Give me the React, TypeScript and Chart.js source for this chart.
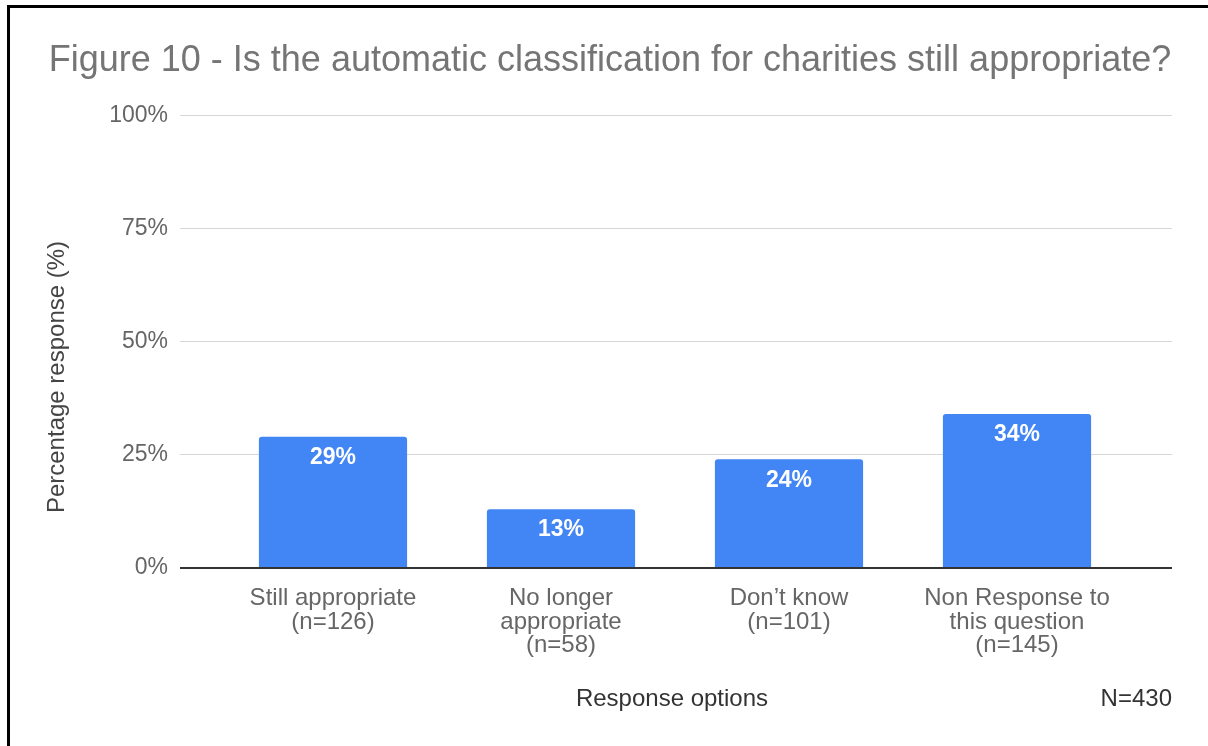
import React, { useEffect, useRef } from "react";
import { Chart, registerables } from "chart.js";

Chart.register(...registerables);

const categories: string[][] = [
  ["Still appropriate", "(n=126)"],
  ["No longer", "appropriate", "(n=58)"],
  ["Don\u2019t know", "(n=101)"],
  ["Non Response to", "this question", "(n=145)"],
];
const percentages: number[] = [29, 13, 24, 34];
const yTicks: number[] = [0, 25, 50, 75, 100];

const TITLE = "Figure 10 - Is the automatic classification for charities still appropriate?";
const Y_TITLE = "Percentage response (%)";
const X_TITLE = "Response options";
const N_NOTE = "N=430";

const FONT = "'Liberation Sans', Arial, Helvetica, sans-serif";
const BAR = "#4285F4";

const gridColor = (ctx: any) => (ctx.tick && ctx.tick.value === 0 ? "#333333" : "#d6d6d6");
const gridWidth = (ctx: any) => (ctx.tick && ctx.tick.value === 0 ? 2 : 1);

const extrasPlugin = {
  id: "extras",
  afterDatasetsDraw(chart: any) {
    const ctx = chart.ctx;
    const meta = chart.getDatasetMeta(0);
    ctx.save();
    ctx.fillStyle = "#ffffff";
    ctx.font = `bold 23px ${FONT}`;
    ctx.textAlign = "center";
    ctx.textBaseline = "middle";
    meta.data.forEach((bar: any, i: number) => {
      ctx.fillText(`${percentages[i]}%`, bar.x, bar.y + 21);
    });
    ctx.restore();
  },
  afterDraw(chart: any) {
    const ctx = chart.ctx;
    ctx.save();
    ctx.font = `24px ${FONT}`;
    ctx.textBaseline = "middle";
    ctx.fillStyle = "#333333";
    ctx.textAlign = "center";
    ctx.fillText(X_TITLE, 672, 699);
    ctx.textAlign = "right";
    ctx.fillText(N_NOTE, 1172, 699);
    ctx.translate(57, 377);
    ctx.rotate(-Math.PI / 2);
    ctx.textAlign = "center";
    ctx.fillStyle = "#444444";
    ctx.fillText(Y_TITLE, 0, 0);
    ctx.restore();
  },
};

export default function App() {
  const ref = useRef<HTMLCanvasElement | null>(null);
  useEffect(() => {
    if (!ref.current) return;
    const chart = new Chart(ref.current, {
      type: "bar",
      data: {
        labels: categories,
        datasets: [
          {
            data: percentages,
            backgroundColor: BAR,
            borderRadius: { topLeft: 3, topRight: 3, bottomLeft: 0, bottomRight: 0 },
            borderSkipped: "start",
            categoryPercentage: 1,
            barPercentage: 0.65,
          },
        ],
      },
      options: {
        animation: false,
        responsive: false,
        maintainAspectRatio: false,
        layout: { padding: { left: 12, right: 0, top: 0, bottom: 0 } },
        plugins: {
          legend: { display: false },
          tooltip: { enabled: false },
          title: {
            display: true,
            text: TITLE,
            color: "#757575",
            font: { family: FONT, size: 36, weight: "normal", lineHeight: 1.2 },
            padding: { top: 39, bottom: 33 },
          },
        },
        scales: {
          x: {
            type: "category",
            offset: true,
            grid: { display: false },
            border: { display: false },
            ticks: {
              color: "#666666",
              font: { family: FONT, size: 24, lineHeight: 0.98 },
              padding: 11,
              maxRotation: 0,
              minRotation: 0,
              autoSkip: false,
            },
            afterFit: (s: any) => {
              s.height = 178;
            },
          },
          y: {
            type: "linear",
            position: "left",
            min: 0,
            max: 100,
            afterBuildTicks: (s: any) => {
              s.ticks = yTicks.map((v) => ({ value: v }));
            },
            grid: {
              color: gridColor,
              lineWidth: gridWidth,
              drawTicks: true,
              tickLength: 39,
            },
            border: { display: false },
            ticks: {
              color: "#666666",
              font: { family: FONT, size: 23 },
              padding: 12,
              callback: (v: any) => `${v}%`,
            },
            afterFit: (s: any) => {
              s.width = 207;
            },
          },
          y2: {
            type: "linear",
            position: "right",
            min: 0,
            max: 100,
            afterBuildTicks: (s: any) => {
              s.ticks = yTicks.map((v) => ({ value: v }));
            },
            grid: {
              color: gridColor,
              lineWidth: gridWidth,
              drawOnChartArea: false,
              drawTicks: true,
              tickLength: 41,
            },
            border: { display: false },
            ticks: { display: false },
            afterFit: (s: any) => {
              s.width = 77;
            },
          },
        },
      },
      plugins: [extrasPlugin],
    });
    return () => chart.destroy();
  }, []);

  return (
    <div
      style={{
        position: "absolute",
        left: 0,
        top: 0,
        width: 1208,
        height: 746,
        overflow: "hidden",
        background: "#ffffff",
      }}
    >
      <canvas ref={ref} width={1208} height={746} style={{ position: "absolute", left: 0, top: 0 }} />
      <div
        style={{
          position: "absolute",
          left: 7,
          top: 5,
          width: 1300,
          height: 900,
          borderTop: "3px solid #000",
          borderLeft: "3px solid #000",
          pointerEvents: "none",
        }}
      />
    </div>
  );
}
